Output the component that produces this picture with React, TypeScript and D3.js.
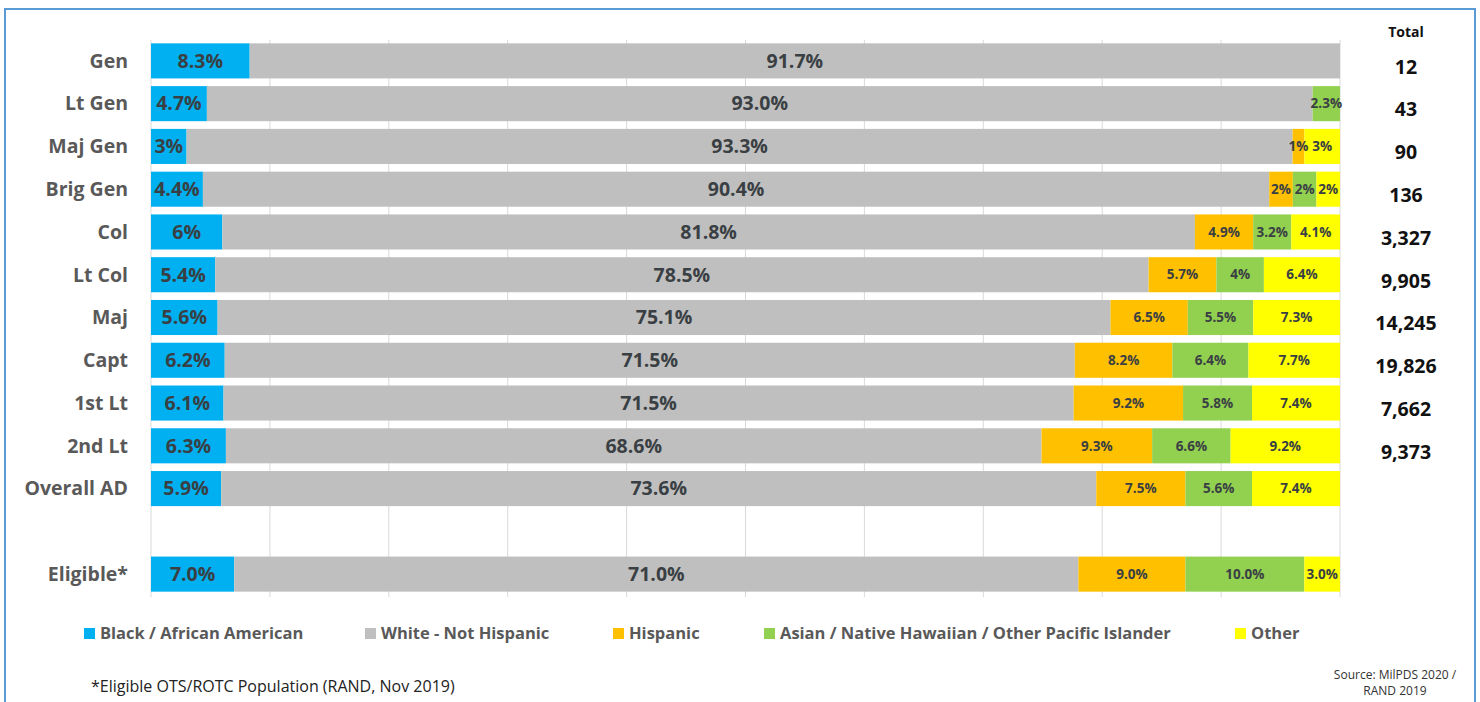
import React from "react";
import * as d3 from "d3";

const categories = ["Gen", "Lt Gen", "Maj Gen", "Brig Gen", "Col", "Lt Col", "Maj", "Capt", "1st Lt", "2nd Lt", "Overall AD", "", "Eligible*"];
// values kept as printed labels (the chart shows e.g. "93.0%" but "3%")
const black = ["8.3", "4.7", "3", "4.4", "6", "5.4", "5.6", "6.2", "6.1", "6.3", "5.9", "0", "7.0"];
const white = ["91.7", "93.0", "93.3", "90.4", "81.8", "78.5", "75.1", "71.5", "71.5", "68.6", "73.6", "0", "71.0"];
const hispanic = ["0", "0", "1", "2", "4.9", "5.7", "6.5", "8.2", "9.2", "9.3", "7.5", "0", "9.0"];
const asian = ["0", "2.3", "0", "2", "3.2", "4", "5.5", "6.4", "5.8", "6.6", "5.6", "0", "10.0"];
const other = ["0", "0", "3", "2", "4.1", "6.4", "7.3", "7.7", "7.4", "9.2", "7.4", "0", "3.0"];
const totals = ["12", "43", "90", "136", "3,327", "9,905", "14,245", "19,826", "7,662", "9,373", "", "", ""];
const seriesNames = ["Black / African American", "White - Not Hispanic", "Hispanic", "Asian / Native Hawaiian / Other Pacific Islander", "Other"];
const seriesColors = ["#00B0F0", "#BFBFBF", "#FFC000", "#92D050", "#FFFF00"];
const gridTicks = [0, 10, 20, 30, 40, 50, 60, 70, 80, 90, 100];

const FONT = "'Open Sans', 'DejaVu Sans', sans-serif";

export default function App() {
  const W = 1480, H = 702;
  const x = d3.scaleLinear().domain([0, 100]).range([151, 1340]);
  const y = d3.scaleBand().domain(categories.map((c, i) => String(i))).range([39.5, 595.5]).paddingInner(0.18).paddingOuter(0.09);
  const seriesVals = [black, white, hispanic, asian, other];
  const rows = categories.map((c, i) => {
    const o: any = { cat: String(i) };
    seriesVals.forEach((s, k) => (o["s" + k] = +s[i]));
    return o;
  });
  const stack = d3.stack().keys(seriesNames.map((_, k) => "s" + k)).offset(d3.stackOffsetExpand);
  const stacked = stack(rows as any);
  const legendX = [84, 365, 613, 764, 1235];

  return (
    <div style={{ position: "absolute", left: 0, top: 0 }}>
      <svg width={W} height={H} style={{ display: "block", background: "#fff" }} fontFamily={FONT}>
        <rect x={5} y={9} width={1470} height={720} fill="none" stroke="#5B9BD5" strokeWidth={2} />
        {gridTicks.map((t) => (
          <line key={t} x1={x(t)} x2={x(t)} y1={40} y2={597} stroke="#D9D9D9" strokeWidth={1} />
        ))}
        {stacked.map((layer, k) => (
          <g key={k}>
            {layer.map((d, i) => {
              const label = seriesVals[k][i];
              if (!categories[i] || +label === 0) return null;
              const x0 = x(d[0] * 100), x1 = x(d[1] * 100);
              return (
                <rect key={i} x={x0} y={y(String(i))} width={x1 - x0} height={y.bandwidth()} fill={seriesColors[k]} />
              );
            })}
          </g>
        ))}
        {stacked.map((layer, k) => (
          <g key={"t" + k}>
            {layer.map((d, i) => {
              const label = seriesVals[k][i];
              if (!categories[i] || +label === 0) return null;
              const x0 = x(d[0] * 100), x1 = x(d[1] * 100);
              const big = k < 2;
              return (
                <text
                  key={i}
                  x={(x0 + x1) / 2}
                  y={(y(String(i)) as number) + y.bandwidth() / 2}
                  dy="0.35em"
                  textAnchor="middle"
                  fontSize={big ? 19.5 : 13.5}
                  fontWeight="bold"
                  fill="#3A3F44"
                >
                  {label + "%"}
                </text>
              );
            })}
          </g>
        ))}
        {categories.map((c, i) => (
          <text key={i} x={128} y={(y(String(i)) as number) + y.bandwidth() / 2} dy="0.35em" textAnchor="end" fontSize={19.5} fontWeight="bold" fill="#595959">
            {c}
          </text>
        ))}
        <text x={1406} y={32} dy="0.35em" textAnchor="middle" fontSize={14} fontWeight="bold" fill="#111">Total</text>
        {totals.map((t, i) => (
          <text key={i} x={1406} y={(y(String(i)) as number) + y.bandwidth() / 2 + 6} dy="0.35em" textAnchor="middle" fontSize={19.5} fontWeight="bold" fill="#111">
            {t}
          </text>
        ))}
        {seriesNames.map((n, k) => (
          <g key={k}>
            <rect x={legendX[k]} y={628} width={11} height={11} fill={seriesColors[k]} />
            <text x={legendX[k] + 16} y={633} dy="0.35em" fontSize={16.5} fontWeight="bold" fill="#595959">{n}</text>
          </g>
        ))}
        <text x={91} y={686} dy="0.35em" fontSize={16} fill="#222">*Eligible OTS/ROTC Population (RAND, Nov 2019)</text>
        <text x={1395} y={675} dy="0.35em" textAnchor="middle" fontSize={12} fill="#333">Source: MilPDS 2020 /</text>
        <text x={1395} y={691} dy="0.35em" textAnchor="middle" fontSize={12} fill="#333">RAND 2019</text>
      </svg>
    </div>
  );
}
